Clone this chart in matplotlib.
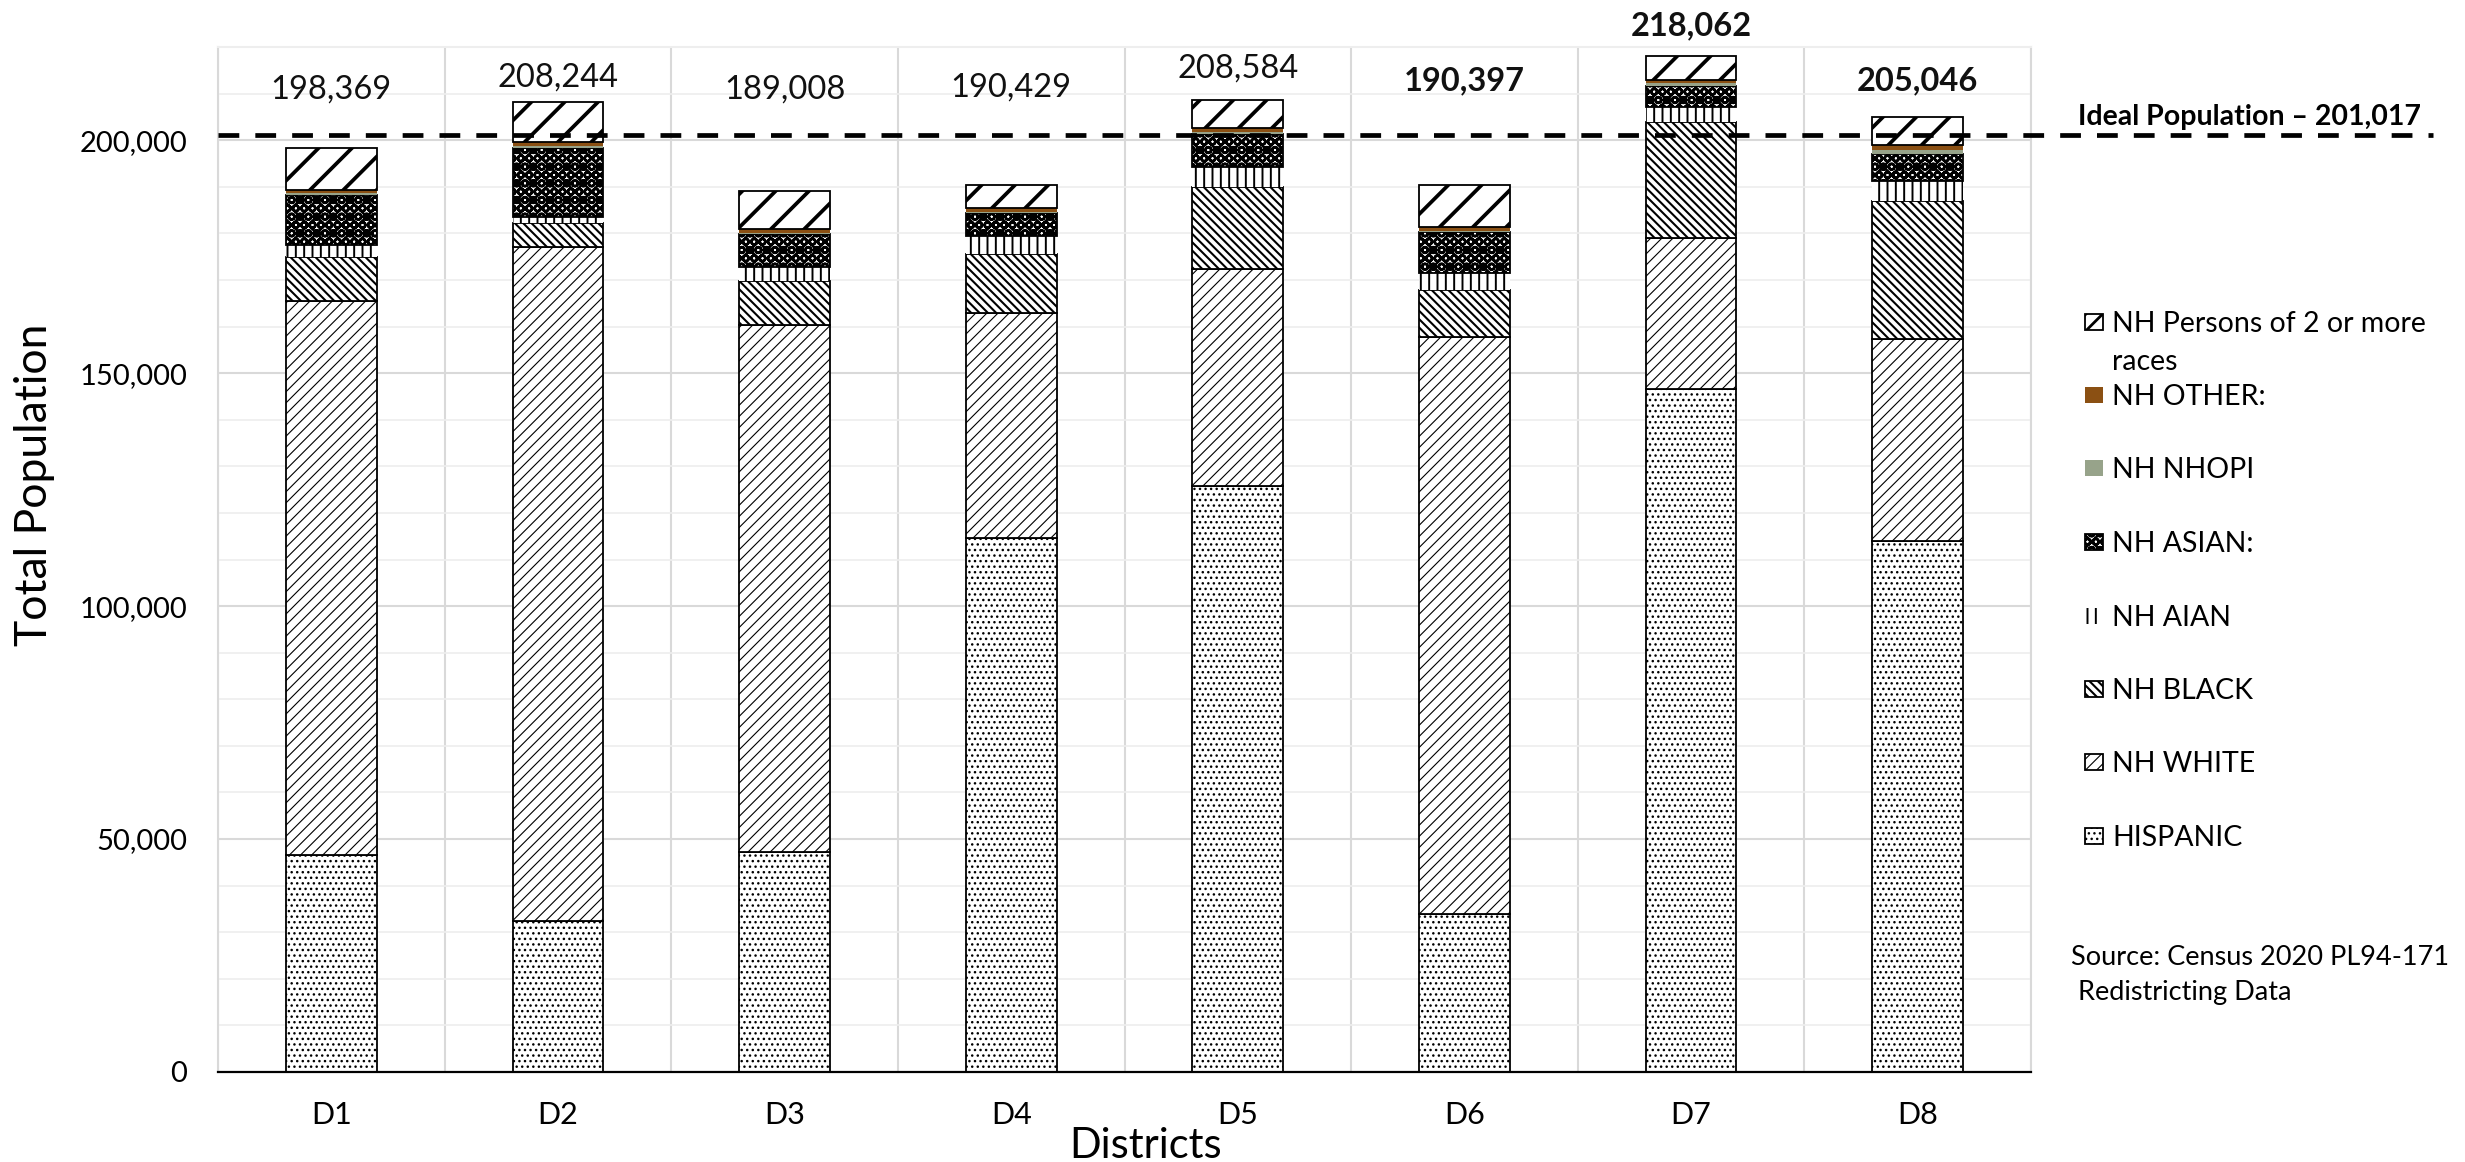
import numpy as np
import matplotlib
matplotlib.use("Agg")
import matplotlib.pyplot as plt
from matplotlib.patches import Rectangle
from matplotlib.ticker import MultipleLocator, FuncFormatter

# Data
districts = ["D1", "D2", "D3", "D4", "D5", "D6", "D7", "D8"]
hispanic = [46600, 32500, 47300, 114600, 125800, 34000, 146700, 114000]
nh_white = [118900, 144500, 113000, 48400, 46600, 123800, 32400, 43300]
nh_black = [9400, 5200, 9500, 12600, 17600, 10000, 24700, 29600]
nh_aian = [2700, 1300, 2900, 3900, 4300, 3600, 3400, 4300]
nh_asian = [10700, 14900, 7200, 4900, 7000, 8900, 4500, 5900]
nh_nhopi = [400, 300, 200, 200, 500, 300, 500, 800]
nh_other = [700, 900, 900, 800, 900, 800, 800, 1000]
nh_two = [8969, 8644, 8008, 5029, 5884, 8997, 5062, 6146]
ideal_population = 201017
bold_total = [False, False, False, False, False, True, True, True]

series_names = ["HISPANIC", "NH WHITE", "NH BLACK", "NH AIAN", "NH ASIAN:",
                "NH NHOPI", "NH OTHER:", "NH Persons of 2 or more\nraces"]
series_values = [hispanic, nh_white, nh_black, nh_aian, nh_asian,
                 nh_nhopi, nh_other, nh_two]

# Styles: (facecolor, hatch, hatch linewidth, edge linewidth)
styles = [
    ("white", "...", 1.0, 1.3),
    ("white", "///", 0.8, 1.3),
    ("white", "\\\\\\\\", 1.5, 1.3),
    ("white", "||", 1.4, 0.0),
    ("white", "xxOO", 1.8, 1.3),
    ("#97a38a", None, 1.0, 0.0),
    ("#8b5013", None, 1.0, 0.0),
    ("white", "/", 2.7, 1.3),
]

# label baselines (data units), placed by hand like the original
label_base = [209000, 211600, 209000, 209400, 213500, 210700, 222500, 210700]

plt.rcParams['font.family'] = ['Lato', 'DejaVu Sans']

W, H = 2465, 1162
fig = plt.figure(figsize=(W / 100, H / 100), dpi=100)


def fx(px):
    return px / W


def fy(py):
    return 1 - py / H


ax = fig.add_axes([fx(218), fy(1072), fx(2031) - fx(218), fy(47) - fy(1072)])

x = np.arange(len(districts))
bottom = np.zeros(len(districts))
for name, vals, (fc, hatch, hlw, elw) in zip(series_names, series_values, styles):
    with plt.rc_context({'hatch.linewidth': hlw}):
        bars = ax.bar(x, vals, 0.4, bottom=bottom, color=fc, hatch=hatch,
                      edgecolor="black", linewidth=elw, zorder=3)
    for b in bars:
        if hasattr(b, "set_hatch_linewidth"):
            b.set_hatch_linewidth(hlw)
    bottom = bottom + np.array(vals)

totals = bottom
for i, t in enumerate(totals):
    ax.text(x[i], label_base[i], f"{int(t):,}", ha="center", va="baseline",
            fontsize=23.5, fontweight="bold" if bold_total[i] else "normal",
            color="#111111", zorder=5)

# ideal population line, runs out past the plot area
ax.plot([0, 1.222], [ideal_population, ideal_population], color="black",
        lw=3.4, dashes=(4.4, 3.4), transform=ax.get_yaxis_transform(),
        clip_on=False, zorder=4)
ax.text(1.026, 203300, f"Ideal Population \u2013 {ideal_population:,}",
        transform=ax.get_yaxis_transform(), ha="left", va="baseline",
        fontsize=20.5, fontweight="bold")

ax.set_xlim(-0.5, len(districts) - 0.5)
ax.set_ylim(0, 220000)
ax.yaxis.set_major_locator(MultipleLocator(50000))
ax.yaxis.set_minor_locator(MultipleLocator(10000))
ax.yaxis.set_major_formatter(FuncFormatter(lambda v, p: f"{int(v):,}"))
ax.set_xticks(x)
ax.set_xticklabels(districts)
ax.xaxis.set_minor_locator(MultipleLocator(1, offset=0.5))
ax.tick_params(axis="both", which="both", length=0)
ax.tick_params(axis="y", labelsize=21, pad=22)
ax.tick_params(axis="x", labelsize=22, pad=21)

ax.grid(True, which="major", axis="y", color="#d9d9d9", lw=1.5, zorder=0)
ax.grid(True, which="minor", axis="y", color="#eeeeee", lw=1.2, zorder=0)
ax.grid(True, which="minor", axis="x", color="#d9d9d9", lw=1.5, zorder=0)
for s in ["top", "right", "left"]:
    ax.spines[s].set_color("#d9d9d9")
    ax.spines[s].set_linewidth(1.5)
ax.spines["top"].set_color("#eeeeee")
ax.spines["bottom"].set_linewidth(1.6)
ax.spines["bottom"].set_zorder(4)

fig.text(fx(47), fy(485), "Total Population", rotation=90, rotation_mode="anchor",
         ha="center", va="baseline", fontsize=32)
fig.text(fx(1146), fy(1158), "Districts", ha="center", va="baseline", fontsize=30)

# legend, drawn top to bottom like the original
legend_centers = [322, 395, 468, 542, 616, 689, 762, 836]
for k, ci in enumerate(range(len(series_names) - 1, -1, -1)):
    fc, hatch, hlw, elw = styles[ci]
    if hatch == "/":
        hatch = "//"   # small key box needs denser stripes to show any
        hlw = 2.0
    cy = legend_centers[k]
    with plt.rc_context({'hatch.linewidth': hlw}):
        r = Rectangle((fx(2085), fy(cy + 8)), fx(18), 16 / H, transform=fig.transFigure,
                      facecolor=fc, hatch=hatch, edgecolor="black",
                      linewidth=(elw if elw else 0.0))
    if hasattr(r, "set_hatch_linewidth"):
        r.set_hatch_linewidth(hlw)
    fig.add_artist(r)
    for j, line in enumerate(series_names[ci].split("\n")):
        fig.text(fx(2112), fy(cy + 10 + 38 * j), line, ha="left", va="baseline",
                 fontsize=20.5)

fig.text(fx(2071), fy(965), "Source: Census 2020 PL94-171", ha="left",
         va="baseline", fontsize=19.5)
fig.text(fx(2078), fy(1000), "Redistricting Data", ha="left",
         va="baseline", fontsize=19.5)

fig.savefig("out.png", dpi=100)
